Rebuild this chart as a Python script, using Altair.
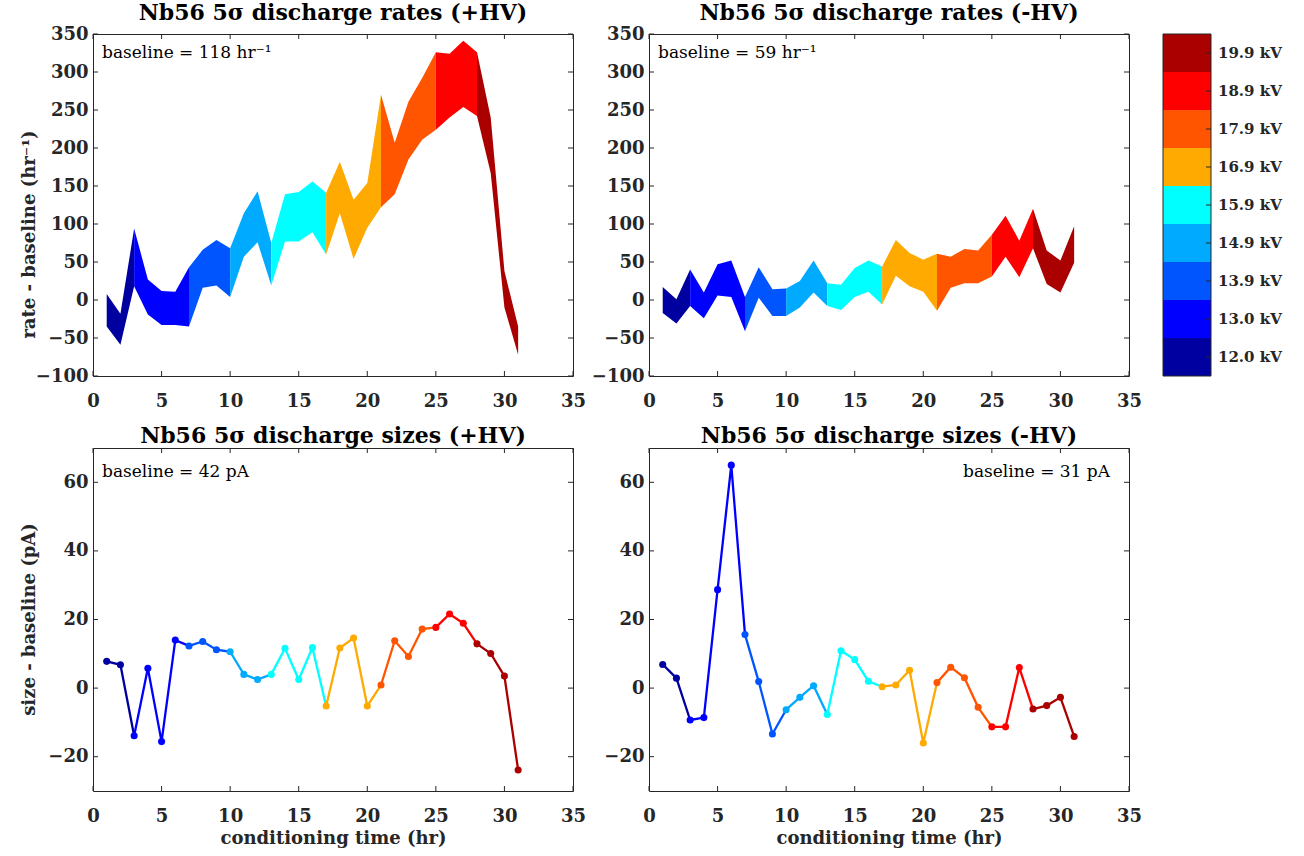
import altair as alt
import pandas as pd

# ---------------- data ----------------
hours = list(range(1, 32))
voltages = ["12.0 kV", "13.0 kV", "13.9 kV", "14.9 kV", "15.9 kV",
            "16.9 kV", "17.9 kV", "18.9 kV", "19.9 kV"]
colors = ["#0000a0", "#0000ff", "#0055ff", "#00aaff", "#00ffff",
          "#ffaa00", "#ff5500", "#ff0000", "#aa0000"]
group_start = [1, 3, 7, 10, 13, 17, 21, 25, 28]
group_end = [3, 7, 10, 13, 17, 21, 25, 28, 31]

rate_pos_high = [8, -18, 94, 27, 12, 11, 43, 66, 79, 68, 114, 143, 75, 139, 142, 156,
                 141, 182, 132, 154, 270, 207, 261, 292, 326, 324, 341, 326, 240, 38, -35]
rate_pos_low = [-35, -59, 18, -19, -33, -33, -35, 16, 19, 4, 57, 76, 19, 77, 77, 89,
                60, 114, 54, 95, 122, 139, 185, 211, 224, 240, 254, 242, 167, -10, -72]
rate_neg_high = [17, 1, 40, 10, 47, 52, 4, 43, 14, 15, 25, 52, 22, 20, 42, 52,
                 44, 79, 62, 53, 61, 57, 67, 65, 86, 111, 78, 120, 65, 52, 97]
rate_neg_low = [-17, -31, -8, -24, 6, 4, -41, 3, -21, -21, -10, 10, -8, -13, 4, 11,
                -6, 32, 18, 11, -14, 16, 22, 22, 31, 57, 30, 68, 21, 10, 49]
size_pos = [7.8, 6.8, -13.9, 5.8, -15.6, 14.0, 12.3, 13.6, 11.2, 10.6, 4.0, 2.5, 4.0,
            11.6, 2.5, 11.8, -5.2, 11.7, 14.6, -5.2, 0.9, 13.8, 9.2, 17.2, 17.7, 21.6,
            18.9, 12.9, 10.1, 3.5, -23.9]
size_neg = [6.9, 2.9, -9.3, -8.6, 28.7, 65.0, 15.6, 1.9, -13.4, -6.3, -2.7, 0.7, -7.7,
            10.9, 8.3, 2.0, 0.4, 0.9, 5.2, -16.0, 1.6, 6.1, 3.0, -5.6, -11.3, -11.3,
            6.0, -6.1, -5.1, -2.7, -14.1]

x_ticks = [0, 5, 10, 15, 20, 25, 30, 35]
rate_ticks = [-100, -50, 0, 50, 100, 150, 200, 250, 300, 350]
size_ticks = [-20, 0, 20, 40, 60]

FONT = "DejaVu Serif"
AX = "#262626"
W, H = 480, 342


def group_of(h):
    for g in range(len(group_start)):
        if group_start[g] <= h < group_end[g]:
            return g
    return len(group_start) - 1


def segment_frame(values):
    rows = []
    for g in range(len(group_start)):
        for h in range(group_start[g], group_end[g] + 1):
            row = {"hour": h, "volt": voltages[g], "g": g}
            for k, arr in values.items():
                row[k] = arr[h - 1]
            rows.append(row)
    return pd.DataFrame(rows)


color_enc = alt.Color("volt:N", scale=alt.Scale(domain=voltages, range=colors), legend=None)


def x_enc(title):
    kw = dict(values=x_ticks, ticks=False, tickSize=0, domain=False, grid=False,
              labelFont=FONT, labelFontSize=18, labelFontWeight="bold", labelColor=AX,
              labelPadding=16, labelFlush=False, labelOverlap=False)
    if title:
        kw.update(titleFont=FONT, titleFontSize=18, titleFontWeight="bold",
                  titleColor=AX, titlePadding=4)
    return alt.X("hour:Q", scale=alt.Scale(domain=[0, 35], nice=False),
                 axis=alt.Axis(**kw), title=title)


def y_enc(field, dom, values, title, ty):
    kw = dict(values=values, ticks=False, tickSize=0, domain=False, grid=False,
              labelFont=FONT, labelFontSize=18, labelFontWeight="bold", labelColor=AX,
              labelPadding=5, labelOverlap=False)
    if title:
        kw.update(titleFont=FONT, titleFontSize=18, titleFontWeight="bold",
                  titleColor=AX, titleX=-64, titleY=ty, titleBaseline="middle",
                  titleAngle=270)
    return alt.Y(field + ":Q", scale=alt.Scale(domain=dom, nice=False),
                 axis=alt.Axis(**kw), title=title)


def tick_layers(xe, ye, yfield, yticks, h):
    xs = pd.DataFrame({"hour": x_ticks})
    ys = pd.DataFrame({yfield: yticks})
    base_x = alt.Chart(xs).mark_rule(color=AX, strokeWidth=1)
    base_y = alt.Chart(ys).mark_rule(color=AX, strokeWidth=1)
    return [
        base_x.encode(x=xe, y=alt.value(h), y2=alt.value(h - 5)),
        base_x.encode(x=xe, y=alt.value(0), y2=alt.value(5)),
        base_y.encode(y=ye, x=alt.value(0), x2=alt.value(5)),
        base_y.encode(y=ye, x=alt.value(W - 5), x2=alt.value(W)),
    ]


def title_params(text):
    return alt.TitleParams(text=text, font=FONT, fontSize=22, fontWeight="bold",
                           color="#000000", offset=0)


def annot(text, align, ypos):
    x = alt.value(9) if align == "left" else alt.value(W - 19)
    return alt.Chart(pd.DataFrame({"t": [text]})).mark_text(
        font=FONT, fontSize=17, color="#000000", align=align, baseline="alphabetic"
    ).encode(text="t:N", x=x, y=alt.value(ypos))


def rate_panel(hi, lo, title, ytitle, note):
    df = segment_frame({"hi": hi, "lo": lo})
    xe = x_enc(None)
    ye = y_enc("hi", [-100, 350], rate_ticks, ytitle, 200)
    area = alt.Chart(df).mark_area(opacity=1).encode(
        x=xe, y=ye, y2="lo:Q", color=color_enc, detail="g:N")
    return alt.layer(area, *tick_layers(xe, ye, "hi", rate_ticks, H),
                     annot(note, "left", 24)).properties(
        width=W, height=H, title=title_params(title))


def size_panel(vals, title, ytitle, note, align):
    df = segment_frame({"val": vals})
    pts = pd.DataFrame({"hour": hours, "val": vals,
                        "volt": [voltages[group_of(h)] for h in hours]})
    xe = x_enc("conditioning time (hr)")
    ye = y_enc("val", [-30, 70], size_ticks, ytitle, 171)
    line = alt.Chart(df).mark_line(strokeWidth=2.3).encode(
        x=xe, y=ye, color=color_enc, detail="g:N")
    dots = alt.Chart(pts).mark_circle(size=50, opacity=1).encode(
        x=xe, y=ye, color=color_enc)
    return alt.layer(line, dots, *tick_layers(xe, ye, "val", size_ticks, H + 1),
                     annot(note, align, 29)).properties(
        width=W, height=H + 1, title=title_params(title))


# colour bar (its view starts 76 px right of the panel; bar drawn 42 px left of that)
CB0, CB1 = -42, 6
cb_df = pd.DataFrame({"lo": list(range(9)), "hi": [i + 1 for i in range(9)],
                      "mid": [i + 0.5 for i in range(9)], "volt": voltages})
cb_scale = alt.Scale(domain=[0, 9], nice=False)
cb_rect = alt.Chart(cb_df).mark_rect().encode(
    y=alt.Y("lo:Q", scale=cb_scale, axis=None),
    y2="hi:Q",
    x=alt.value(CB0), x2=alt.value(CB1),
    color=color_enc,
)
cb_frame = alt.Chart(pd.DataFrame({"lo": [0], "hi": [9]})).mark_rect(
    fill="transparent", stroke=AX, strokeWidth=1).encode(
    y=alt.Y("lo:Q", scale=cb_scale, axis=None), y2="hi:Q",
    x=alt.value(CB0), x2=alt.value(CB1))
cb_ticks = alt.Chart(cb_df).mark_rule(color=AX, strokeWidth=1).encode(
    y=alt.Y("mid:Q", scale=cb_scale, axis=None), x=alt.value(CB1 - 5), x2=alt.value(CB1))
cb_labels = alt.Chart(cb_df).mark_text(
    font=FONT, fontSize=15, fontWeight="bold", color=AX, align="left", baseline="middle"
).encode(y=alt.Y("mid:Q", scale=cb_scale, axis=None), x=alt.value(CB1 + 7), text="volt:N")
colorbar = alt.layer(cb_rect, cb_frame, cb_ticks, cb_labels).properties(
    width=48, height=H, view=alt.ViewBackground(stroke="transparent"))

tl = rate_panel(rate_pos_high, rate_pos_low, "Nb56 5σ discharge rates (+HV)",
                "rate - baseline  (hr⁻¹)", "baseline = 118 hr⁻¹")
tr = rate_panel(rate_neg_high, rate_neg_low, "Nb56 5σ discharge rates (-HV)",
                None, "baseline = 59 hr⁻¹")
bl = size_panel(size_pos, "Nb56 5σ discharge sizes (+HV)", "size - baseline  (pA)",
                "baseline = 42 pA", "left")
br = size_panel(size_neg, "Nb56 5σ discharge sizes (-HV)", None,
                "baseline = 31 pA", "right")

top = alt.hconcat(tl, tr, colorbar, spacing=76, bounds="flush")
bottom = alt.hconcat(bl, br, spacing=76, bounds="flush")
chart = alt.vconcat(top, bottom, spacing=13).properties(
    padding={"left": 19, "top": 1, "right": 5, "bottom": 5},
    background="white",
).configure_view(stroke=AX, strokeWidth=1)

chart.save("out.html", embed_options={"renderer": "svg", "actions": False})
